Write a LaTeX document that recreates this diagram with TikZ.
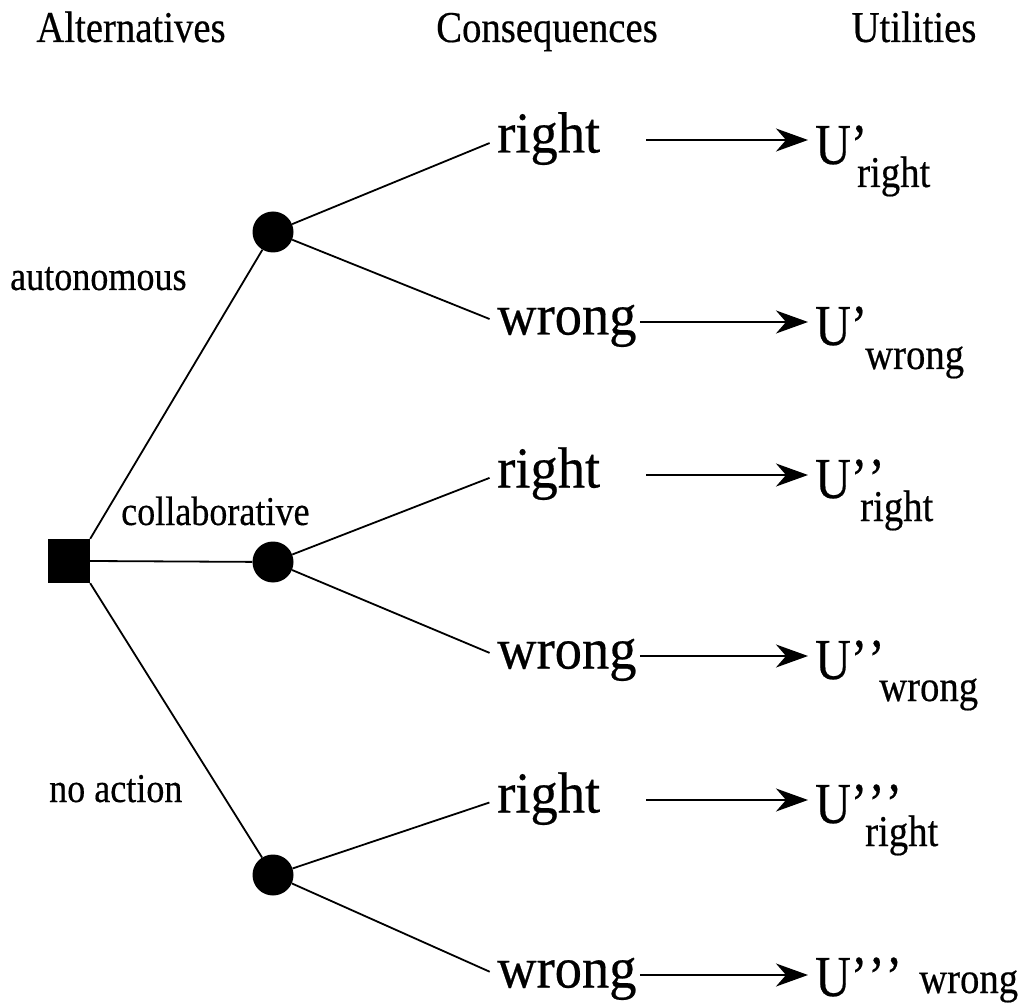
\documentclass[tikz,border=0pt]{standalone}
\usepackage{fontspec}
\setmainfont{Liberation Serif}[FakeStretch=0.88,FakeBold=0.4]
\newfontfamily\outfam{Liberation Serif}[FakeStretch=0.94,FakeBold=0.4]
\newfontfamily\ufam{Liberation Serif}[FakeStretch=0.85,FakeBold=0.4]
\usetikzlibrary{arrows.meta}

% U with primes, followed by a lowered subscript set at a given offset
\newcommand\utilitylabel[4]{\rlap{\ufam\fontsize{58}{64}\selectfont U#1}\kern#3\raisebox{#4}{\fontsize{44}{50}\selectfont #2}}
\newcommand\pone{’}
\newcommand\ptwo{’\kern1pt’}
\newcommand\pthree{’\kern1pt’\kern1pt’}

\begin{document}
\begin{tikzpicture}[x=1pt,y=-1pt,
  edge/.style={line width=1.8pt},
  choice/.style={fill=black, minimum width=42pt, minimum height=44pt, inner sep=0pt},
  chance/.style={circle, fill=black, minimum size=41pt, inner sep=0pt},
  header/.style={anchor=base, inner sep=0pt, font=\fontsize{44}{50}\selectfont},
  altlabel/.style={anchor=base west, inner sep=0pt, font=\fontsize{41}{48}\selectfont},
  outcome/.style={anchor=west, inner sep=0pt, text height=25pt, text depth=0pt,
    text width=149pt, align=left, font=\outfam\fontsize{58}{66}\selectfont},
  utility/.style={anchor=base west, inner sep=0pt},
  payoff/.style={line width=1.8pt, shorten >=7pt,
    -{Stealth[length=32pt,width=23pt,inset=10pt]}},
]
\useasboundingbox (0,0) rectangle (1021,1008);
\fill[white] (0,0) rectangle (1021,1008);

% column headings
\node[header] (hA) at (131,42) {Alternatives};
\node[header] (hC) at (547,42) {Consequences};
\node[header] (hU) at (914,42) {Utilities};

% decision node and chance nodes
\node[choice] (sq) at (69,561) {};
\node[chance] (c1) at (273,232) {};
\node[chance] (c2) at (273,562) {};
\node[chance] (c3) at (273,875) {};

% alternative labels
\node[altlabel] (la) at (10,290) {autonomous};
\node[altlabel] (lc) at (121,525) {collaborative};
\node[altlabel] (ln) at (49,802) {no action};

% consequences
\node[outcome] (r1) at (497,140) {right};
\node[outcome, text width=143pt] (w1) at (497,322) {wrong};
\node[outcome] (r2) at (497,475) {right};
\node[outcome, text width=143pt] (w2) at (497,656) {wrong};
\node[outcome] (r3) at (497,800) {right};
\node[outcome, text width=143pt] (w3) at (497,975) {wrong};

% utilities
\node[utility] (u1) at (815,164) {\utilitylabel{\pone}{right}{42pt}{-23pt}};
\node[utility] (u2) at (815,345) {\utilitylabel{\pone}{wrong}{50pt}{-24pt}};
\node[utility] (u3) at (815,498) {\utilitylabel{\ptwo}{right}{45pt}{-23pt}};
\node[utility] (u4) at (815,679) {\utilitylabel{\ptwo}{wrong}{64pt}{-22pt}};
\node[utility] (u5) at (815,823) {\utilitylabel{\pthree}{right}{50pt}{-23pt}};
\node[utility] (u6) at (815,996) {\utilitylabel{\pthree}{wrong}{104pt}{3pt}};

% alternatives
\draw[edge] (sq.north east) -- (c1);
\draw[edge] (sq.east) -- (c2);
\draw[edge] (sq.south east) -- (c3);

% chance branches
\draw[edge, shorten >=8pt] (c1) -- (r1.west);
\draw[edge, shorten >=8pt] (c1) -- (w1.west);
\draw[edge, shorten >=8pt] (c2) -- (r2.west);
\draw[edge, shorten >=8pt] (c2) -- (w2.west);
\draw[edge, shorten >=8pt] (c3) -- (r3.west);
\draw[edge, shorten >=8pt] (c3) -- (w3.west);

% payoff arrows
\draw[payoff] (r1.east) -- (r1.east -| u1.west);
\draw[payoff] (w1.east) -- (w1.east -| u2.west);
\draw[payoff] (r2.east) -- (r2.east -| u3.west);
\draw[payoff] (w2.east) -- (w2.east -| u4.west);
\draw[payoff] (r3.east) -- (r3.east -| u5.west);
\draw[payoff] (w3.east) -- (w3.east -| u6.west);
\end{tikzpicture}
\end{document}
